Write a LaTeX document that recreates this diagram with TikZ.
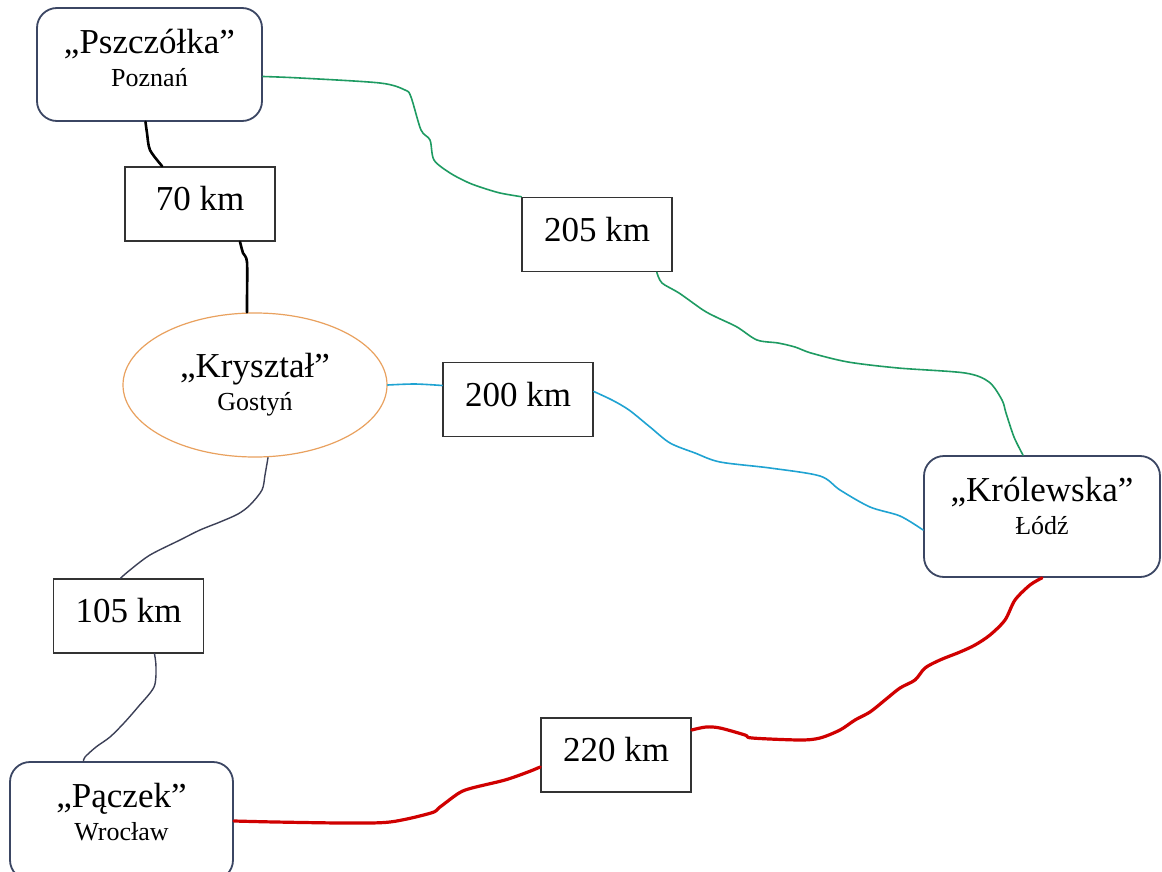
\documentclass[tikz,border=0pt]{standalone}
\usepackage{fontspec}
\setmainfont{Liberation Serif}
\usetikzlibrary{shapes.geometric}

\definecolor{ramka}{HTML}{3B4663}
\definecolor{pomar}{HTML}{E9A15E}
\definecolor{zielony}{HTML}{1E9B62}
\definecolor{niebieski}{HTML}{1FA3D2}
\definecolor{granat}{HTML}{3C4057}
\definecolor{czerwony}{HTML}{D00000}

\tikzset{
  miasto/.style={draw=ramka, line width=0.9pt, rounded corners=10pt, fill=white},
  odl/.style={draw=black!80, line width=0.8pt, minimum width=75pt, minimum height=37pt,
    text depth=5.5pt, fill=white, font=\fontsize{17.5}{20}\selectfont},
  nazwa/.style={align=center, inner sep=0pt, anchor=north, font=\fontsize{13}{16.5}\selectfont},
  droga/.style={line cap=round, line join=round},
}

\begin{document}
\begin{tikzpicture}[x=0.5pt, y=-0.5pt]

\path[fill=white, use as bounding box] (0,0) rectangle (1162,872);

% Hurtownie (miasta)
\node[miasto, minimum width=112.5pt, minimum height=56.5pt] (psz) at (149.5,64.5) {};
\node[nazwa, yshift=-11pt] (pszt) at (psz.north) {{\fontsize{17.5}{20}\selectfont „Pszczółka”}\\Poznań};

\node[miasto, minimum width=118pt, minimum height=60.5pt] (kro) at (1042,516.5) {};
\node[nazwa, yshift=-11pt] (krot) at (kro.north) {{\fontsize{17.5}{20}\selectfont „Królewska”}\\Łódź};

\node[miasto, minimum width=111.5pt, minimum height=59pt] (pacz) at (121.5,821) {};
\node[nazwa, yshift=-11pt] (paczt) at (pacz.north) {{\fontsize{17.5}{20}\selectfont „Pączek”}\\Wrocław};

\node[draw=pomar, line width=0.6pt, ellipse, minimum width=132pt, minimum height=72pt,
  align=center, inner sep=0pt, font=\fontsize{13}{16.5}\selectfont] (kry) at (255,385)
  {{\fontsize{17.5}{20}\selectfont „Kryształ”}\\Gostyń};

% Odleglosci
\node[odl] (d70) at (200,204) {70 km};
\node[odl] (d205) at (597,234.5) {205 km};
\node[odl] (d200) at (518,399.5) {200 km};
\node[odl] (d105) at (128.5,616) {105 km};
\node[odl] (d220) at (616,755) {220 km};

% Drogi
\draw[droga, black, line width=1.3pt] plot[smooth, tension=0.5] coordinates {([xshift=-2pt]psz.south) (147,133) (150,150) ([xshift=19pt]d70.north west)};
\draw[droga, black, line width=1.3pt] plot[smooth, tension=0.5] coordinates {([xshift=20pt]d70.south) (243,253) (247,262) (247,300) ([xshift=-4pt]kry.north)};

\draw[droga, zielony, line width=0.8pt] plot[smooth, tension=0.5] coordinates {([yshift=-6pt]psz.east) (300,78) (380,83) (405,90) (411,97) (421,130) (430,140) (434,160) (450,173) (467,182) (480,187) (500,193) (d205.north west)};
\draw[droga, zielony, line width=0.8pt] plot[smooth, tension=0.5] coordinates {([xshift=-8pt]d205.south east) (662,283) (679,293) (703,310) (716,317) (737,327) (757,340) (778,343) (795,347) (811,353) (848,362) (898,368) (965,373) (989,382) (1002,400) (1006,413) (1014,437) ([xshift=-9.5pt]kro.north)};

\draw[droga, niebieski, line width=0.8pt] plot[smooth, tension=0.5] coordinates {(kry.east) (415,384) ([yshift=7pt]d200.west)};
\draw[droga, niebieski, line width=0.8pt] plot[smooth, tension=0.5] coordinates {([yshift=4pt]d200.east) (612,400) (629,410) (650,427) (670,443) (695,453) (720,462) (770,468) (820,476) (840,490) (870,507) (900,516) ([yshift=-6.75pt]kro.west)};

\draw[droga, granat, line width=0.7pt] plot[smooth, tension=0.5] coordinates {([xshift=6.5pt]kry.south) (265,475) (262,490) (250,505) (238,514) (220,522) (200,530) (180,540) (150,555) (130,570) ([xshift=-4pt]d105.north)};
\draw[droga, granat, line width=0.7pt] plot[smooth, tension=0.5] coordinates {([xshift=13pt]d105.south) (156,667) (154,687) (138,707) (124,723) (110,737) (96,747) (85,757) ([xshift=-19pt]pacz.north)};

\draw[droga, czerwony, line width=1.6pt] plot[smooth, tension=0.5] coordinates {(pacz.east) (275,822) (344,823) (390,822) (431,813) (440,807) (459,793) (472,788) (505,780) (528,772) ([yshift=-6pt]d220.west)};
\draw[droga, czerwony, line width=1.6pt] plot[smooth, tension=0.5] coordinates {([yshift=12.5pt]d220.east) (706,727) (720,728) (745,735) (752,738) (800,740) (820,738) (840,730) (855,720) (870,712) (885,700) (900,688) (915,680) (925,668) (940,660) (960,652) (975,645) (990,635) (1005,620) (1015,600) (1030,585) (kro.south)};

\end{tikzpicture}
\end{document}
